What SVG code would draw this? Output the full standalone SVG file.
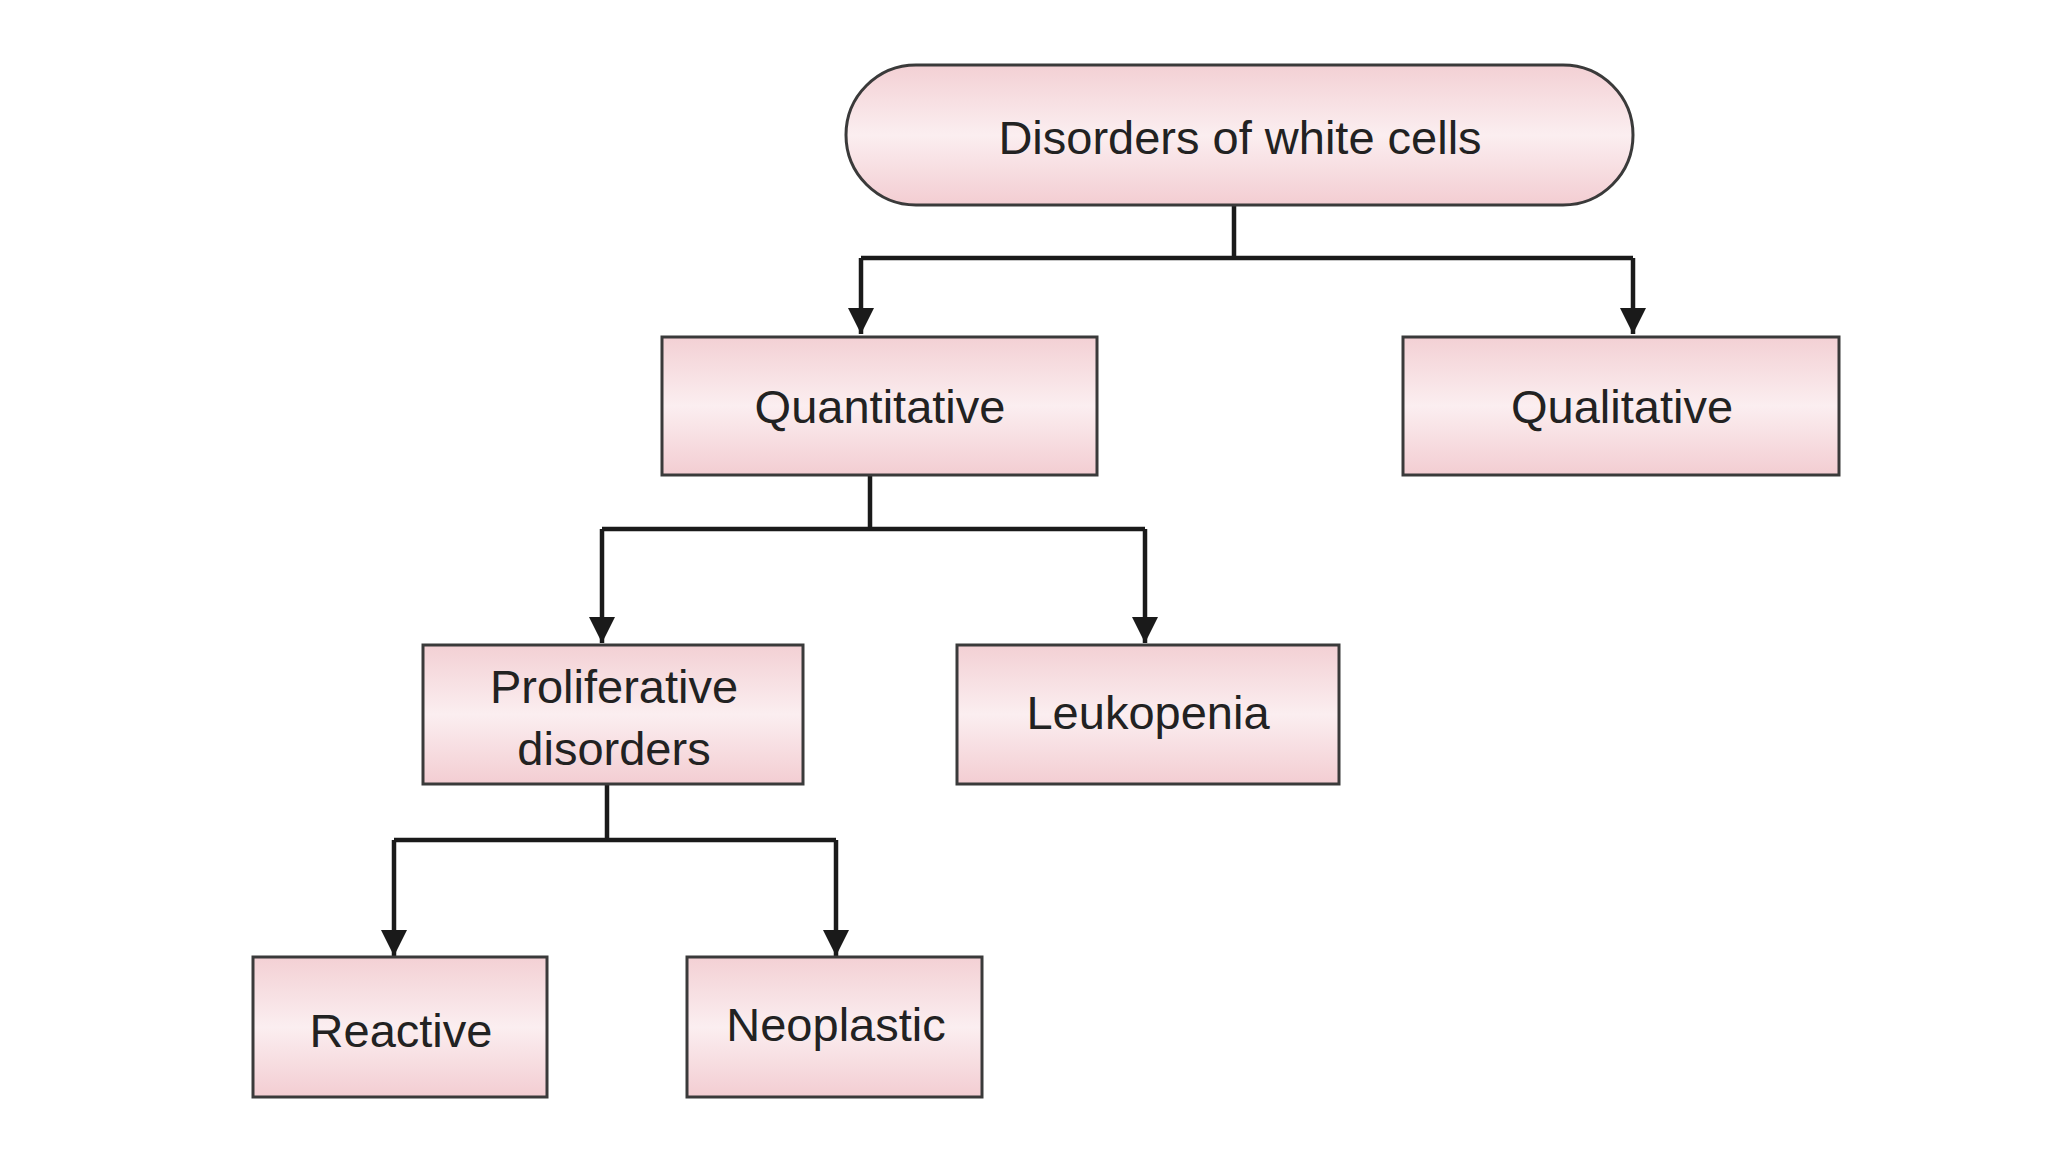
<svg xmlns="http://www.w3.org/2000/svg" width="2048" height="1152" viewBox="0 0 2048 1152">
<defs>
<linearGradient id="g" x1="0" y1="0" x2="0" y2="1">
<stop offset="0" stop-color="#f3d0d4"/><stop offset="0.5" stop-color="#fbeef0"/><stop offset="1" stop-color="#f3cdd2"/>
</linearGradient>
<marker id="b" markerWidth="26" markerHeight="28" refX="26" refY="13" orient="auto" markerUnits="userSpaceOnUse">
<path d="M0,0 L26,13 L0,26 Z" fill="#1a1a1a"/>
</marker>
</defs>
<style>
.n{fill:url(#g);stroke:#3a3a3a;stroke-width:3}
.t{font-family:"Liberation Sans",Arial,sans-serif;font-size:47px;fill:#222;text-anchor:middle;dominant-baseline:central}
.c{fill:none;stroke:#1a1a1a;stroke-width:4.5}
</style>
<rect width="2048" height="1152" fill="#fff"/>
<g id="connectors">
<path class="c" d="M1234,205 V258 M861,258 H1633"/>
<path class="c" d="M861,258 V334" marker-end="url(#b)"/>
<path class="c" d="M1633,258 V334" marker-end="url(#b)"/>
<path class="c" d="M870,475 V529 M602,529 H1145"/>
<path class="c" d="M602,529 V643" marker-end="url(#b)"/>
<path class="c" d="M1145,529 V643" marker-end="url(#b)"/>
<path class="c" d="M607,784 V840 M394,840 H836"/>
<path class="c" d="M394,840 V956" marker-end="url(#b)"/>
<path class="c" d="M836,840 V956" marker-end="url(#b)"/>
</g>
<g id="root"><rect class="n" x="846" y="65" width="787" height="140" rx="70"/><text class="t" x="1240" y="137">Disorders of white cells</text></g>
<g id="quantitative"><rect class="n" x="662" y="337" width="435" height="138"/><text class="t" x="880" y="406">Quantitative</text></g>
<g id="qualitative"><rect class="n" x="1403" y="337" width="436" height="138"/><text class="t" x="1622" y="406">Qualitative</text></g>
<g id="proliferative"><rect class="n" x="423" y="645" width="380" height="139"/><text class="t" x="614" y="686">Proliferative</text><text class="t" x="614" y="748">disorders</text></g>
<g id="leukopenia"><rect class="n" x="957" y="645" width="382" height="139"/><text class="t" x="1148" y="712">Leukopenia</text></g>
<g id="reactive"><rect class="n" x="253" y="957" width="294" height="140"/><text class="t" x="401" y="1030">Reactive</text></g>
<g id="neoplastic"><rect class="n" x="687" y="957" width="295" height="140"/><text class="t" x="836" y="1024">Neoplastic</text></g>
</svg>
